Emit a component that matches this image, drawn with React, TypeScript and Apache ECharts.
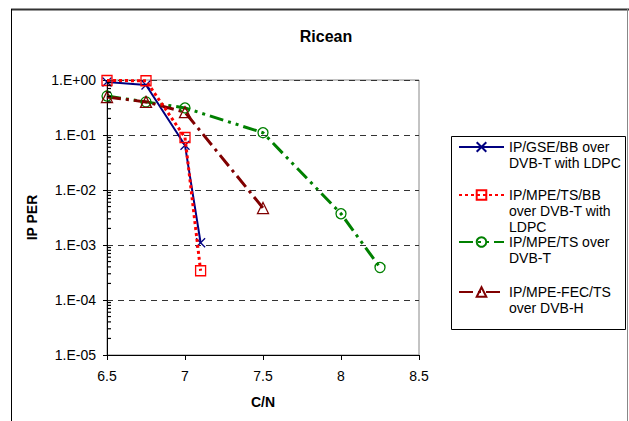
import React, { useEffect, useRef } from 'react';
import * as echarts from 'echarts';

const seriesNames = [
  'IP/GSE/BB over DVB-T with LDPC',
  'IP/MPE/TS/BB over DVB-T with LDPC',
  'IP/MPE/TS over DVB-T',
  'IP/MPE-FEC/TS over DVB-H',
];
const legendLabels = [
  'IP/GSE/BB over\nDVB-T with LDPC',
  'IP/MPE/TS/BB\nover DVB-T with\nLDPC',
  'IP/MPE/TS over\nDVB-T',
  'IP/MPE-FEC/TS\nover DVB-H',
];

const gseCN = [6.5, 6.75, 7.0, 7.1];
const gsePER = [0.92, 0.81, 0.065, 0.0011];
const mpeBbCN = [6.5, 6.75, 7.0, 7.1];
const mpeBbPER = [0.98, 0.97, 0.09, 0.00034];
const mpeTsCN = [6.5, 6.75, 7.0, 7.5, 8.0, 8.25];
const mpeTsPER = [0.51, 0.4, 0.31, 0.11, 0.0037, 0.00039];
const fecCN = [6.5, 6.75, 7.0, 7.5];
const fecPER = [0.49, 0.4, 0.26, 0.0047];

const yTickValues = [1e-5, 1e-4, 1e-3, 1e-2, 1e-1, 1];
const yTickLabels = ['1.E-05', '1.E-04', '1.E-03', '1.E-02', '1.E-01', '1.E+00'];
const minorMantissas = [2, 3, 4, 5, 6, 7, 8, 9];
const minorDecades = [1e-5, 1e-4, 1e-3, 1e-2, 1e-1];

const colors = ['#000080', '#FF0000', '#008000', '#800000'];
const FONT = 'Liberation Sans, Arial, sans-serif';

const zip = (xs: number[], ys: number[]) => xs.map((x, i) => [x, ys[i]]);

export default function App() {
  const ref = useRef<HTMLDivElement>(null);
  useEffect(() => {
    if (!ref.current) return;
    const chart = echarts.init(ref.current, undefined, { renderer: 'svg' });
    const iconCenters = [147, 195, 242, 292];
    const lh = 16;
    const minorTickPoints: number[][] = [];
    minorDecades.forEach((d) => minorMantissas.forEach((m) => minorTickPoints.push([6.5, m * d])));
    const option: any = {
      animation: false,
      backgroundColor: '#fff',
      title: {
        text: 'Ricean',
        left: 321,
        top: 23,
        textAlign: 'center',
        textStyle: { fontFamily: FONT, fontSize: 16, fontWeight: 'bold', color: '#000' },
      },
      grid: { left: 107, top: 80, right: 210, bottom: 66, show: true, borderColor: '#888', borderWidth: 1 },
      xAxis: {
        type: 'value',
        min: 6.5,
        max: 8.5,
        interval: 0.5,
        name: 'C/N',
        nameLocation: 'middle',
        nameGap: 40,
        nameTextStyle: { fontFamily: FONT, fontSize: 14, fontWeight: 'bold', color: '#000' },
        axisLine: { show: true, onZero: false, lineStyle: { color: '#000', width: 1 } },
        axisTick: { show: true, length: 5, lineStyle: { color: '#000' } },
        axisLabel: { fontFamily: FONT, fontSize: 14, color: '#000', margin: 14 },
        splitLine: { show: false },
      },
      yAxis: {
        type: 'log',
        logBase: 10,
        min: 1e-5,
        max: 1,
        name: 'IP PER',
        nameLocation: 'middle',
        nameRotate: 90,
        nameGap: 68,
        nameTextStyle: { fontFamily: FONT, fontSize: 14, fontWeight: 'bold', color: '#000' },
        axisLine: { show: true, lineStyle: { color: '#000', width: 1 } },
        axisTick: { show: true, length: 4, lineStyle: { color: '#000' } },
        axisLabel: {
          fontFamily: FONT,
          fontSize: 14,
          color: '#000',
          margin: 11,
          formatter: (v: number) => {
            const i = yTickValues.findIndex((t) => Math.abs(Math.log10(t) - Math.log10(v)) < 1e-6);
            return i >= 0 ? yTickLabels[i] : '';
          },
        },
        splitLine: { show: true, lineStyle: { color: '#333', type: [6, 5], width: 1 } },
      },
      legend: seriesNames.map((name, i) => {
        const n = legendLabels[i].split('\n').length;
        const label = '\n'.repeat(n - 1) + legendLabels[i];
        return {
          data: [name],
          orient: 'vertical',
          left: 458,
          top: iconCenters[i] - ((2 * n - 1) * lh) / 2,
          padding: 0,
          itemWidth: 45,
          itemHeight: 12,
          selectedMode: false,
          formatter: () => label,
          textStyle: {
            fontFamily: FONT,
            fontSize: 14,
            lineHeight: lh,
            color: '#000',
          },
        };
      }),
      graphic: [
        { type: 'line', shape: { x1: 11, y1: 9.5, x2: 629, y2: 9.5 }, style: { stroke: '#333', lineWidth: 2 }, silent: true },
        { type: 'line', shape: { x1: 11.5, y1: 9, x2: 11.5, y2: 421 }, style: { stroke: '#000', lineWidth: 1 }, silent: true },
        { type: 'line', shape: { x1: 627.5, y1: 9, x2: 627.5, y2: 421 }, style: { stroke: '#888', lineWidth: 1 }, silent: true },
        {
          type: 'rect',
          shape: { x: 451.5, y: 136.5, width: 174, height: 193 },
          style: { fill: 'none', stroke: '#000', lineWidth: 1 },
          silent: true,
        },
      ],
      series: [
        {
          name: seriesNames[0],
          type: 'line',
          data: zip(gseCN, gsePER),
          symbol: 'path://M0,0L10,10M10,0L0,10',
          symbolSize: 9,
          lineStyle: { color: colors[0], width: 2, type: 'solid' },
          itemStyle: { color: 'transparent', borderColor: colors[0], borderWidth: 1.3 },
          z: 3,
        },
        {
          name: seriesNames[1],
          type: 'line',
          data: zip(mpeBbCN, mpeBbPER),
          symbol: 'rect',
          symbolSize: 10,
          lineStyle: { color: colors[1], width: 3, type: [3, 3] },
          itemStyle: { color: 'transparent', borderColor: colors[1], borderWidth: 1.3 },
          z: 4,
        },
        {
          name: seriesNames[2],
          type: 'line',
          data: zip(mpeTsCN, mpeTsPER),
          symbol: 'circle',
          symbolSize: 10,
          lineStyle: { color: colors[2], width: 3, type: [14, 5, 3, 5, 3, 5] },
          itemStyle: { color: 'transparent', borderColor: colors[2], borderWidth: 1.3 },
          z: 3,
        },
        {
          name: seriesNames[3],
          type: 'line',
          data: zip(fecCN, fecPER),
          symbol: 'triangle',
          symbolSize: 11,
          lineStyle: { color: colors[3], width: 3, type: [14, 5, 3, 5] },
          itemStyle: { color: 'transparent', borderColor: colors[3], borderWidth: 1.3 },
          z: 3,
        },
        {
          name: 'minor ticks',
          type: 'scatter',
          data: minorTickPoints,
          symbol: 'rect',
          symbolSize: [4, 1.2],
          symbolOffset: [2, 0],
          itemStyle: { color: '#000', opacity: 1 },
          silent: true,
          clip: false,
          z: 6,
        },
      ],
    };
    chart.setOption(option);
    return () => chart.dispose();
  }, []);
  return <div ref={ref} style={{ position: 'fixed', left: 0, top: 0, width: 629, height: 421 }} />;
}
